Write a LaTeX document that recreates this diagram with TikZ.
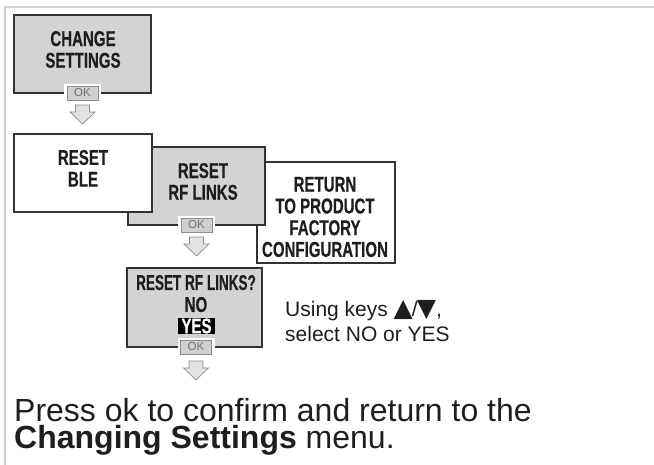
\documentclass[tikz,border=0pt]{standalone}
\usepackage{fontspec}
\setmainfont{Liberation Sans}
\newfontfamily\condfont{Liberation Sans Bold}[FakeStretch=0.7, FakeBold=0.4]
\newfontfamily\symfont{DejaVu Sans}
\definecolor{boxgray}{HTML}{D3D3D3}
\definecolor{edgecol}{HTML}{333333}
\definecolor{okfill}{HTML}{D0D0D0}
\definecolor{okedge}{HTML}{8C8C8C}
\definecolor{oktext}{HTML}{707070}
\definecolor{arrowfill}{HTML}{E2E2E2}
\definecolor{framecol}{HTML}{D0D0D0}
\definecolor{inkcol}{HTML}{1E1E1E}
\newcommand{\tri}[1]{{\symfont\fontsize{25}{25}\selectfont #1}}
\begin{document}
\begin{tikzpicture}[x=1pt,y=-1pt,
 menubox/.style={draw=edgecol, line width=1.1pt, inner sep=0pt, outer sep=0pt},
 graybox/.style={menubox, fill=boxgray},
 whitebox/.style={menubox, fill=white},
 lbl/.style={font=\condfont\fontsize{21.5}{21.7}\selectfont, text=inkcol, align=center, inner sep=0pt},
 okback/.style={fill=white, minimum width=37pt, minimum height=17pt, inner sep=0pt},
 okbtn/.style={fill=okfill, draw=okedge, line width=0.6pt, minimum width=31pt, minimum height=14pt, inner sep=0pt, text=oktext, font=\fontsize{11.5}{11.5}\selectfont},
 hollowdown/.pic={\draw[draw=okedge, fill=arrowfill, line width=0.7pt, line join=miter] (-7,0) -- (7,0) -- (7,7) -- (12.5,7) -- (0,19) -- (-12.5,7) -- (-7,7) -- cycle;},
 bodytext/.style={text=inkcol, inner sep=0pt, anchor=base west}]
\useasboundingbox (0,0) rectangle (654,465);
\draw[framecol, line width=1.5pt] (5,465) -- (5,7) -- (654,7);
% top box
\node[graybox, minimum width=137pt, minimum height=78pt] (cs) at (82.5,54) {};
\node[lbl] (cst) at (83,49.5) {CHANGE\\SETTINGS};
\node[okback] (ok1b) at (82.5,93) {};
\node[okbtn] (ok1) at (82.5,93) {OK};
\path (ok1.center) ++(0,12) pic {hollowdown};
% stacked boxes
\node[whitebox, minimum width=138pt, minimum height=101pt] (ret) at (326,212.5) {};
\node[lbl] (rett) at (325,217) {RETURN\\TO PRODUCT\\FACTORY\\CONFIGURATION};
\node[graybox, minimum width=137pt, minimum height=78pt] (rf) at (196.5,186) {};
\node[lbl] (rft) at (203,181.5) {RESET\\RF LINKS};
\node[whitebox, minimum width=138pt, minimum height=78pt] (ble) at (83,173) {};
\node[lbl] (blet) at (83,168.3) {RESET\\BLE};
\node[okback] (ok2b) at (196.5,225) {};
\node[okbtn] (ok2) at (196.5,225) {OK};
\path (ok2.center) ++(0,12) pic {hollowdown};
% confirmation box
\node[graybox, minimum width=135pt, minimum height=79pt] (rq) at (194.5,307.5) {};
\node[lbl, anchor=base] (rq1) at (196,290) {\scalebox{0.9}[1]{RESET RF LINKS?}};
\node[lbl, anchor=base] (rq2) at (196,312) {NO};
\node[lbl, fill=black, text=white, minimum width=37pt, minimum height=16.5pt] (rq3) at (196.5,326) {YES};
\node[okback] (ok3b) at (196,347) {};
\node[okbtn] (ok3) at (196,347) {OK};
\path (ok3.center) ++(0,14) pic {hollowdown};
% hint
\node[bodytext, font=\fontsize{21}{25}\selectfont] (hint1) at (285,316.5) {Using keys \tri{▲}\kern-1pt/\kern-1pt\tri{▼},};
\node[bodytext, font=\fontsize{21}{25}\selectfont] (hint2) at (285,341.5) {select NO or YES};
% footer
\node[bodytext, font=\fontsize{32}{27}\selectfont, text depth=0pt] (foot1) at (14,421) {Press ok to confirm and return to the};
\node[bodytext, font=\fontsize{32}{27}\selectfont, text height=22pt] (foot2) at (14,448.5) {\textbf{Changing Settings} menu.};
\end{tikzpicture}
\end{document}
